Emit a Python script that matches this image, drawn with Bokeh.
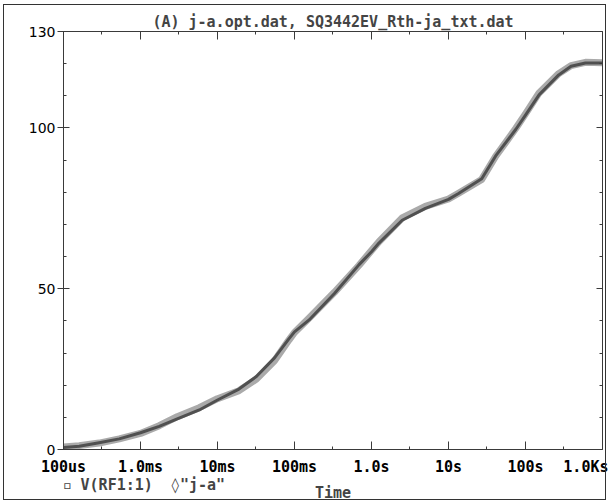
from bokeh.plotting import figure
from bokeh.models import (LogAxis, LinearAxis, FixedTicker, CustomJSTickFormatter,
                          Range1d, Title, InlineStyleSheet)
from bokeh.embed import file_html
from bokeh.resources import INLINE

# ---- data ----
time_s = [1e-4, 1.6e-4, 2.9e-4, 5.3e-4, 1e-3, 1.75e-3, 3e-3, 5.8e-3, 1e-2, 1.9e-2,
          3.2e-2, 5.5e-2, 8.5e-2, 0.1, 0.155, 0.33, 0.69, 1.0, 1.25, 2.5,
          5.0, 10.0, 13.5, 27.0, 41.0, 75.0, 100.0, 150.0, 270.0, 390.0, 600.0, 1000.0]
sim_vals = [0.6, 1.0, 2.1, 3.3, 5.2, 7.2, 9.5, 12.3, 15.4, 18.8,
            22.7, 28.5, 34.5, 36.6, 40.3, 48.5, 57.5, 61.5, 64.2, 71.3,
            75.0, 77.8, 79.6, 84.2, 91.3, 99.6, 104.0, 110.3, 116.5, 119.2, 120.2, 120.2]
meas_vals = [0.8, 1.2, 2.0, 3.3, 5.0, 7.4, 10.2, 13.0, 15.8, 18.3,
             21.9, 27.6, 34.1, 36.4, 40.9, 48.9, 57.3, 61.9, 64.6, 72.0,
             75.6, 77.9, 79.7, 84.0, 91.2, 99.9, 104.4, 110.9, 116.9, 119.4, 120.4, 120.3]

x_major = [1e-4, 1e-3, 1e-2, 1e-1, 1.0, 10.0, 100.0, 1000.0]
x_minor = [3.16e-4, 3.16e-3, 3.16e-2, 3.16e-1, 3.16, 31.6, 316.0]
x_tick_labels = ["100us", "1.0ms", "10ms", "100ms", "1.0s", "10s", "100s", "1.0Ks"]
y_major = [0, 50, 100, 130]
y_minor = [10, 20, 30, 40, 60, 70, 80, 90, 110, 120]

title_text = "(A) j-a.opt.dat, SQ3442EV_Rth-ja_txt.dat"
legend_sim = "V(RF1:1)"
legend_meas = '"j-a"'
x_title = "Time"

MONO = "DejaVu Sans Mono"
AXC = "#3a3a3a"

p = figure(width=608, height=504, x_axis_type="log",
           x_range=Range1d(x_major[0], x_major[-1]), y_range=Range1d(y_major[0], y_major[-1]),
           output_backend="svg", toolbar_location=None,
           min_border_left=63, min_border_right=6, min_border_top=31, min_border_bottom=50)
p.grid.visible = False
p.outline_line_color = None
p.background_fill_color = "white"
p.border_fill_color = "white"

# outer frame drawn with CSS on the figure host
p.stylesheets = [InlineStyleSheet(css=""":host::after { content: ''; position: absolute;
  left: 3px; top: 4px; width: 601px; height: 494px; border: 1.5px solid #333;
  pointer-events: none; z-index: 100; }""")]

xt = FixedTicker(ticks=x_major, minor_ticks=x_minor)
yt = FixedTicker(ticks=y_major, minor_ticks=y_minor)

fmt = CustomJSTickFormatter(args=dict(labels=x_tick_labels),
                            code="const i = Math.round(Math.log10(tick)) + 4; return labels[i] || '';")
blank = CustomJSTickFormatter(code="return '';")

xa = p.xaxis[0]
xa.ticker = xt
xa.formatter = fmt
xa.major_tick_in = 8
xa.major_tick_out = 0
xa.minor_tick_in = 3
xa.minor_tick_out = 0
xa.major_label_standoff = 8
xa.major_label_text_font = MONO
xa.major_label_text_font_style = "bold"
xa.major_label_text_font_size = "15px"
xa.major_label_text_color = "black"
xa.axis_line_color = AXC
xa.major_tick_line_color = AXC
xa.minor_tick_line_color = AXC

ya = p.yaxis[0]
ya.ticker = yt
ya.major_tick_in = 6
ya.major_tick_out = 6
ya.minor_tick_in = 3
ya.minor_tick_out = 0
ya.major_label_standoff = 2
ya.major_label_text_font = "DejaVu Sans"
ya.major_label_text_font_size = "14px"
ya.major_label_text_color = "black"
ya.axis_line_color = AXC
ya.major_tick_line_color = AXC
ya.minor_tick_line_color = AXC

top = LogAxis(ticker=xt, formatter=blank, major_label_standoff=0,
              major_tick_in=8, major_tick_out=0, minor_tick_in=3, minor_tick_out=0,
              axis_line_color=AXC, major_tick_line_color=AXC, minor_tick_line_color=AXC)
p.add_layout(top, "above")
right = LinearAxis(ticker=yt, formatter=blank, major_label_standoff=0,
                   major_tick_in=6, major_tick_out=0, minor_tick_in=3, minor_tick_out=0,
                   axis_line_color=AXC, major_tick_line_color=AXC, minor_tick_line_color=AXC)
p.add_layout(right, "right")

# curves
p.line(time_s, meas_vals, line_color="#aaaaaa", line_width=7, line_join="round")
p.line(time_s, sim_vals, line_color="#505050", line_width=3, line_join="round")

# top title
p.title.text = title_text
p.title.text_font = MONO
p.title.text_font_style = "bold"
p.title.text_font_size = "15px"
p.title.align = "center"
p.title.offset = -15
p.title.standoff = 2

# below: legend line and axis title
p.add_layout(Title(text="\u25ab " + legend_sim + "\u00a0\u00a0\u25ca" + legend_meas, align="left", offset=-1,
                   text_font=MONO, text_font_style="bold", text_font_size="15px",
                   standoff=-30), "below")
p.add_layout(Title(text=x_title, align="center", offset=0,
                   text_font=MONO, text_font_style="bold", text_font_size="15px",
                   standoff=6), "below")

open("out.html", "w").write(file_html(p, INLINE))
